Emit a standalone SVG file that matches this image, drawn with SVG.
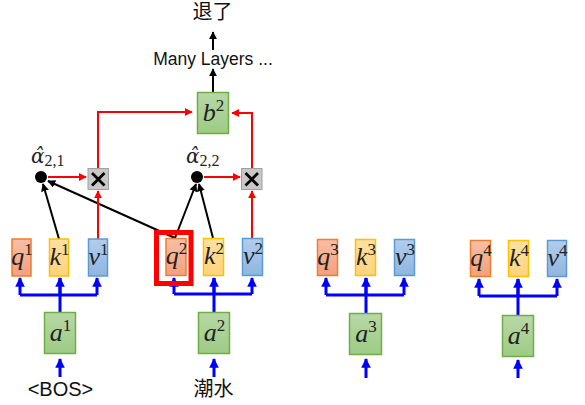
<svg xmlns="http://www.w3.org/2000/svg" width="585" height="405" viewBox="0 0 585 405">
<defs>
<linearGradient id="gq" x1="0" y1="0" x2="0" y2="1"><stop offset="0" stop-color="#F8BFA6"/><stop offset="1" stop-color="#F4A07C"/></linearGradient>
<linearGradient id="gk" x1="0" y1="0" x2="0" y2="1"><stop offset="0" stop-color="#FFE1A3"/><stop offset="1" stop-color="#FFD37C"/></linearGradient>
<linearGradient id="gv" x1="0" y1="0" x2="0" y2="1"><stop offset="0" stop-color="#B3CDEB"/><stop offset="1" stop-color="#8FB5E1"/></linearGradient>
<linearGradient id="ga" x1="0" y1="0" x2="0" y2="1"><stop offset="0" stop-color="#B8D8A6"/><stop offset="1" stop-color="#9DCB85"/></linearGradient>
<marker id="mb" viewBox="0 0 10 10" refX="9" refY="5" markerWidth="3.2" markerHeight="3.2" orient="auto"><path d="M0,0L10,5L0,10z" fill="#0000FF"/></marker>
<marker id="mr" viewBox="0 0 10 10" refX="9" refY="5" markerWidth="4" markerHeight="4" orient="auto"><path d="M0,0L10,5L0,10z" fill="#FF0000"/></marker>
<marker id="mk" viewBox="0 0 10 10" refX="9" refY="5" markerWidth="4" markerHeight="4" orient="auto"><path d="M0,0L10,5L0,10z" fill="#000"/></marker>
</defs>
<style>
.q{fill:url(#gq);stroke:#ED7D31;stroke-width:1.5}
.k{fill:url(#gk);stroke:#FFC000;stroke-width:1.5}
.v{fill:url(#gv);stroke:#5B9BD5;stroke-width:1.5}
.a{fill:url(#ga);stroke:#70AD47;stroke-width:1.5}
.x{fill:#C8C8C8;stroke:#A0A0A0;stroke-width:1}
.m{font-family:"Liberation Serif","DejaVu Serif",serif;font-style:italic;font-size:26px;fill:#222;text-anchor:middle}
.s{font-size:17px;font-style:normal}
.al{font-family:"DejaVu Serif",serif;font-style:italic;font-size:20px;fill:#222}
.ss{font-family:"Liberation Serif",serif;font-size:16px;font-style:normal}
.t{font-family:"Liberation Sans","Noto Sans CJK SC",sans-serif;font-size:20px;fill:#111;text-anchor:middle}
.bl{stroke:#0000FF;stroke-width:3;fill:none}
.rd{stroke:#FF0000;stroke-width:2;fill:none}
.bk{stroke:#000;stroke-width:2;fill:none}
</style>

<g id="connectors">
<path class="bl" d="M60,377V359" marker-end="url(#mb)"/>
<path class="bl" d="M214,377V359" marker-end="url(#mb)"/>
<path class="bl" d="M366,378V359" marker-end="url(#mb)"/>
<path class="bl" d="M518,378V360" marker-end="url(#mb)"/>
<path class="bl" d="M60,312V278"/>
<path class="bl" d="M20,295H97"/>
<path class="bl" d="M20,295V278" marker-end="url(#mb)"/>
<path class="bl" d="M60,295V278" marker-end="url(#mb)"/>
<path class="bl" d="M97,295V278" marker-end="url(#mb)"/>
<path class="bl" d="M214,312V278"/>
<path class="bl" d="M174,294H252"/>
<path class="bl" d="M174,294V278" marker-end="url(#mb)"/>
<path class="bl" d="M214,294V278" marker-end="url(#mb)"/>
<path class="bl" d="M252,294V278" marker-end="url(#mb)"/>
<path class="bl" d="M366,313V278"/>
<path class="bl" d="M326,295H404"/>
<path class="bl" d="M326,295V278" marker-end="url(#mb)"/>
<path class="bl" d="M366,295V278" marker-end="url(#mb)"/>
<path class="bl" d="M404,295V278" marker-end="url(#mb)"/>
<path class="bl" d="M518,315V279"/>
<path class="bl" d="M479,296H557"/>
<path class="bl" d="M479,296V279" marker-end="url(#mb)"/>
<path class="bl" d="M518,296V279" marker-end="url(#mb)"/>
<path class="bl" d="M557,296V279" marker-end="url(#mb)"/>
<path class="bk" d="M59,239L43,184" marker-end="url(#mk)"/>
<path class="bk" d="M175,238L48,181" marker-end="url(#mk)"/>
<path class="bk" d="M175,238L196,184" marker-end="url(#mk)"/>
<path class="bk" d="M213,238L199,184" marker-end="url(#mk)"/>
<path class="rd" d="M98,239V191" marker-end="url(#mr)"/>
<path class="rd" d="M252,238V191" marker-end="url(#mr)"/>
<path class="rd" d="M48,177H86" marker-end="url(#mr)"/>
<path class="rd" d="M204,177H240" marker-end="url(#mr)"/>
<path class="rd" d="M98,168V112H192" marker-end="url(#mr)"/>
<path class="rd" d="M252,168V113H232" marker-end="url(#mr)"/>
<path class="bk" d="M213,92V69" marker-end="url(#mk)"/>
<path class="bk" d="M213,50V32" marker-end="url(#mk)"/>
</g>

<g id="q1"><rect class="q" x="12" y="239" width="19" height="37"/><text class="m" x="22" y="265">q<tspan class="s" dy="-10">1</tspan></text></g>
<g id="k1"><rect class="k" x="49.5" y="239" width="19" height="37"/><text class="m" x="59.5" y="265">k<tspan class="s" dy="-10">1</tspan></text></g>
<g id="v1"><rect class="v" x="88.5" y="239" width="19" height="37"/><text class="m" x="98.5" y="265">v<tspan class="s" dy="-10">1</tspan></text></g>
<g id="q2"><rect class="q" x="166" y="238.5" width="20" height="37"/><text class="m" x="176.5" y="264">q<tspan class="s" dy="-10">2</tspan></text><rect x="156.5" y="232.5" width="34.5" height="51" fill="none" stroke="#FF0000" stroke-width="5"/></g>
<g id="k2"><rect class="k" x="203.5" y="238.5" width="20" height="37"/><text class="m" x="214" y="264">k<tspan class="s" dy="-10">2</tspan></text></g>
<g id="v2"><rect class="v" x="242.5" y="238.5" width="20" height="37"/><text class="m" x="253" y="264">v<tspan class="s" dy="-10">2</tspan></text></g>
<g id="q3"><rect class="q" x="317.5" y="239.5" width="20" height="36"/><text class="m" x="328" y="265">q<tspan class="s" dy="-10">3</tspan></text></g>
<g id="k3"><rect class="k" x="355.5" y="239.5" width="20" height="36"/><text class="m" x="366" y="265">k<tspan class="s" dy="-10">3</tspan></text></g>
<g id="v3"><rect class="v" x="394.5" y="239.5" width="20" height="36"/><text class="m" x="405" y="265">v<tspan class="s" dy="-10">3</tspan></text></g>
<g id="q4"><rect class="q" x="470.5" y="240.5" width="20" height="36"/><text class="m" x="481" y="266">q<tspan class="s" dy="-10">4</tspan></text></g>
<g id="k4"><rect class="k" x="508.5" y="240.5" width="20" height="36"/><text class="m" x="519" y="266">k<tspan class="s" dy="-10">4</tspan></text></g>
<g id="v4"><rect class="v" x="547.5" y="240.5" width="19" height="36"/><text class="m" x="557.5" y="266">v<tspan class="s" dy="-10">4</tspan></text></g>

<g id="a1"><rect class="a" x="44.5" y="312.5" width="31" height="41"/><text class="m" x="60.5" y="341">a<tspan class="s" dy="-10">1</tspan></text></g>
<g id="a2"><rect class="a" x="198.5" y="312.5" width="31" height="41"/><text class="m" x="214.5" y="341">a<tspan class="s" dy="-10">2</tspan></text></g>
<g id="a3"><rect class="a" x="349.5" y="313.5" width="32" height="41"/><text class="m" x="366" y="342">a<tspan class="s" dy="-10">3</tspan></text></g>
<g id="a4"><rect class="a" x="502.5" y="315.5" width="31" height="41"/><text class="m" x="518.5" y="344">a<tspan class="s" dy="-10">4</tspan></text></g>
<g id="b2"><rect class="a" x="197.5" y="92.5" width="31" height="41"/><text class="m" x="213.5" y="121">b<tspan class="s" dy="-10">2</tspan></text></g>

<g id="dot1"><circle cx="41" cy="177" r="6" fill="#000"/><text class="al" x="31" y="163">α̂<tspan class="ss" dy="3">2,1</tspan></text></g>
<g id="dot2"><circle cx="197" cy="177" r="6" fill="#000"/><text class="al" x="186" y="163">α̂<tspan class="ss" dy="3">2,2</tspan></text></g>
<g id="mul1"><rect class="x" x="88" y="168.5" width="20.5" height="21"/><path d="M92,173L104.5,185.5M104.5,173L92,185.5" stroke="#000" stroke-width="2.8"/></g>
<g id="mul2"><rect class="x" x="241.5" y="168.5" width="20.5" height="21"/><path d="M245.5,173L258,185.5M258,173L245.5,185.5" stroke="#000" stroke-width="2.8"/></g>

<g id="bos"><text class="t" x="60.5" y="396">&lt;BOS&gt;</text></g>
<g id="chaoshui"><text class="t" x="213.5" y="396">潮水</text></g>
<g id="layers"><text class="t" x="213" y="65" style="font-size:17.5px">Many Layers ...</text></g>
<g id="tuile"><text class="t" x="212.5" y="19">退了</text></g>
</svg>
